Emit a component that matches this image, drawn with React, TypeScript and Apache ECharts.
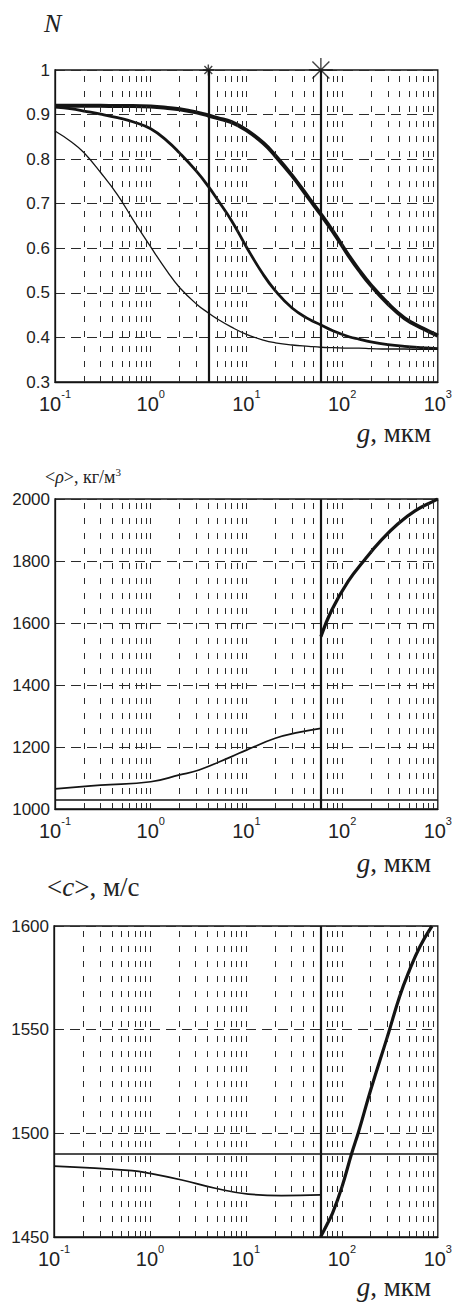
import React, { useEffect, useRef } from "react";
import * as echarts from "echarts";

// ---- tick / grid positions ----
const gridXs = [
  0.2, 0.3, 0.4, 0.5, 0.6, 0.7, 0.8, 0.9, 1,
  2, 3, 4, 5, 6, 7, 8, 9, 10,
  20, 30, 40, 50, 60, 70, 80, 90, 100,
  200, 300, 400, 500, 600, 700, 800, 900,
];

// ---- chart 1: N(g) ----
const gN = [0.1, 0.15, 0.2, 0.3, 0.45, 0.65, 1, 1.5, 2, 3, 4, 5, 7, 10, 15, 20, 30, 45, 60, 80, 120, 150, 200, 300, 450, 700, 1000];
const nThin = [0.863, 0.838, 0.815, 0.77, 0.72, 0.665, 0.603, 0.547, 0.512, 0.475, 0.455, 0.441, 0.423, 0.407, 0.394, 0.388, 0.383, 0.38, 0.378, 0.377, 0.376, 0.376, 0.375, 0.374, 0.374, 0.373, 0.373];
const nMedium = [0.917, 0.913, 0.908, 0.901, 0.893, 0.884, 0.868, 0.84, 0.814, 0.773, 0.739, 0.709, 0.662, 0.603, 0.541, 0.505, 0.466, 0.441, 0.428, 0.415, 0.401, 0.396, 0.39, 0.384, 0.38, 0.377, 0.375];
const nThick = [0.92, 0.92, 0.92, 0.92, 0.919, 0.919, 0.918, 0.915, 0.912, 0.905, 0.898, 0.892, 0.883, 0.865, 0.836, 0.808, 0.763, 0.712, 0.676, 0.638, 0.58, 0.551, 0.517, 0.476, 0.443, 0.42, 0.404];
const nMarkers = [[4, 1], [60, 1]];
const nVerticals = [4, 60];

// ---- chart 2: <rho>(g) ----
const gRhoLow = [0.1, 0.3, 1, 2, 3.2, 7, 10, 20, 35, 60];
const rhoLow = [1065, 1077, 1088, 1110, 1126, 1169, 1190, 1228, 1247, 1260];
const gRhoHigh = [60, 78, 116, 173, 258, 384, 573, 925, 1000];
const rhoHigh = [1556, 1642, 1735, 1805, 1868, 1920, 1961, 1995, 2000];
const rhoVertical = 60;
const rhoHorizontal = 1030;

// ---- chart 3: <c>(g) ----
const gCLow = [0.1, 0.65, 1, 2.15, 4.8, 10.6, 23.5, 60];
const cLow = [1484.2, 1482, 1480.7, 1477.5, 1473.5, 1470.7, 1470, 1470.3];
const gCHigh = [60, 70, 80, 100, 126, 150, 200, 300, 400, 500, 650, 870];
const cHigh = [1450, 1456, 1461.5, 1474, 1490, 1501, 1521, 1547, 1566, 1578, 1590, 1600];
const cVertical = 60;
const cHorizontal = 1490;

const INK = "#141414";
const SANS = "Liberation Sans, Arial, sans-serif";
const SERIF = "Liberation Serif, Times New Roman, serif";

const asterisk =
  "path://M10,0L10,20M0,10L20,10M2.93,2.93L17.07,17.07M2.93,17.07L17.07,2.93";

function curve(gi: number, xs: number[], ys: number[], width: number) {
  return {
    type: "line",
    xAxisIndex: gi,
    yAxisIndex: gi,
    data: xs.map((x, i) => [x, ys[i]]),
    showSymbol: false,
    symbol: "none",
    smooth: 0.45,
    silent: true,
    lineStyle: { color: INK, width },
    z: 3,
  };
}

function gridLines(gi: number) {
  return {
    type: "line",
    xAxisIndex: gi,
    yAxisIndex: gi,
    data: [],
    silent: true,
    z: 1,
    markLine: {
      silent: true,
      symbol: ["none", "none"],
      label: { show: false },
      lineStyle: { color: "#2a2a2a", width: 1, type: [6, 9] },
      data: gridXs.map((v) => ({ xAxis: v })),
    },
  };
}

function refLines(gi: number, xs: number[], ys: number[]) {
  return {
    type: "line",
    xAxisIndex: gi,
    yAxisIndex: gi,
    data: [],
    silent: true,
    z: 4,
    markLine: {
      silent: true,
      symbol: ["none", "none"],
      label: { show: false },
      lineStyle: { color: INK, width: 1.6, type: "solid" },
      data: [
        ...xs.map((v) => ({ xAxis: v, lineStyle: { width: 2.2 } })),
        ...ys.map((v) => ({ yAxis: v })),
      ],
    },
  };
}

function xAxis(gi: number) {
  return {
    type: "log",
    logBase: 10,
    gridIndex: gi,
    min: 0.1,
    max: 1000,
    axisLine: { show: true, onZero: false, lineStyle: { color: INK, width: 1.3 } },
    axisTick: { show: false },
    splitLine: { show: false },
    axisLabel: {
      margin: 6,
      showMinLabel: true,
      showMaxLabel: true,
      formatter: (v: number) => `{b|10}{s|${Math.round(Math.log10(v))}}`,
      rich: {
        b: { fontSize: 20, lineHeight: 26, fontFamily: SANS, color: "#222", verticalAlign: "bottom" },
        s: { fontSize: 11, lineHeight: 12, fontFamily: SANS, color: "#222", verticalAlign: "top" },
      },
    },
  };
}

function yAxis(gi: number, min: number, max: number, interval: number, fmt: (v: number) => string) {
  return {
    type: "value",
    gridIndex: gi,
    min,
    max,
    interval,
    axisLine: { show: true, onZero: false, lineStyle: { color: INK, width: 1.3 } },
    axisTick: { show: false },
    splitLine: { show: true, lineStyle: { color: "#2a2a2a", width: 1, type: [10, 6] } },
    axisLabel: {
      margin: 5,
      fontSize: 17,
      fontFamily: SANS,
      color: "#222",
      formatter: fmt,
    },
  };
}

export default function App() {
  const ref = useRef<HTMLDivElement>(null);

  useEffect(() => {
    document.body.style.margin = "0";
    const chart = echarts.init(ref.current!, undefined, { renderer: "svg" });
    const gridBox = { show: true, borderColor: INK, borderWidth: 1.3, backgroundColor: "transparent" };
    const plain = (v: number) => String(Math.round(v));
    const option: any = {
      animation: false,
      backgroundColor: "#ffffff",
      grid: [
        { ...gridBox, left: 55, top: 70, width: 385, height: 312 },
        { ...gridBox, left: 55, top: 499, width: 385, height: 310 },
        { ...gridBox, left: 54, top: 926, width: 384, height: 311 },
      ],
      xAxis: [xAxis(0), xAxis(1), xAxis(2)],
      yAxis: [
        yAxis(0, 0.3, 1, 0.1, (v: number) => (Math.abs(v - 1) < 1e-9 ? "1" : v.toFixed(1))),
        yAxis(1, 1000, 2000, 200, plain),
        yAxis(2, 1450, 1600, 50, plain),
      ],
      series: [
        gridLines(0),
        gridLines(1),
        gridLines(2),
        curve(0, gN, nThin, 1.3),
        curve(0, gN, nMedium, 2.8),
        curve(0, gN, nThick, 4),
        curve(1, gRhoLow, rhoLow, 1.7),
        curve(1, gRhoHigh, rhoHigh, 3.2),
        curve(2, gCLow, cLow, 1.7),
        curve(2, gCHigh, cHigh, 3.2),
        refLines(0, nVerticals, []),
        refLines(1, [rhoVertical], [rhoHorizontal]),
        refLines(2, [cVertical], [cHorizontal]),
        {
          type: "scatter",
          xAxisIndex: 0,
          yAxisIndex: 0,
          silent: true,
          clip: false,
          z: 5,
          data: nMarkers.map((p, i) => ({
            value: p,
            symbolSize: i === 0 ? 11 : 24,
          })),
          symbol: asterisk,
          itemStyle: { color: "transparent", borderColor: INK, borderWidth: 1.4 },
        },
      ],
      graphic: [
        {
          type: "text",
          x: 44,
          y: 10,
          silent: true,
          style: { text: "N", font: `italic 26px ${SERIF}`, fill: "#222", verticalAlign: "top" },
        },
        ...[419, 849, 1273].map((y) => ({
          type: "text",
          x: 431,
          y,
          silent: true,
          style: {
            text: "{i|g}{r|, мкм}",
            align: "right",
            verticalAlign: "top",
            rich: {
              i: { fontSize: 27, fontStyle: "italic", fontFamily: SERIF, fill: "#222" },
              r: { fontSize: 27, fontFamily: SERIF, fill: "#222" },
            },
          },
        })),
        {
          type: "text",
          x: 45,
          y: 466,
          silent: true,
          style: {
            text: "{r|<}{i|ρ}{r|>, кг/м}{s|3}",
            verticalAlign: "top",
            rich: {
              r: { fontSize: 18, fontFamily: SERIF, fill: "#222", verticalAlign: "bottom", lineHeight: 20 },
              i: { fontSize: 18, fontStyle: "italic", fontFamily: SERIF, fill: "#222", verticalAlign: "bottom", lineHeight: 20 },
              s: { fontSize: 11, fontFamily: SERIF, fill: "#222", verticalAlign: "top", lineHeight: 11 },
            },
          },
        },
        {
          type: "text",
          x: 47,
          y: 873,
          silent: true,
          style: {
            text: "{r|<}{i|c}{r|>, м/с}",
            verticalAlign: "top",
            rich: {
              r: { fontSize: 27, fontFamily: SERIF, fill: "#222" },
              i: { fontSize: 27, fontStyle: "italic", fontFamily: SERIF, fill: "#222" },
            },
          },
        },
      ],
    };
    chart.setOption(option);
    return () => chart.dispose();
  }, []);

  return <div ref={ref} style={{ width: 455, height: 1304 }} />;
}
